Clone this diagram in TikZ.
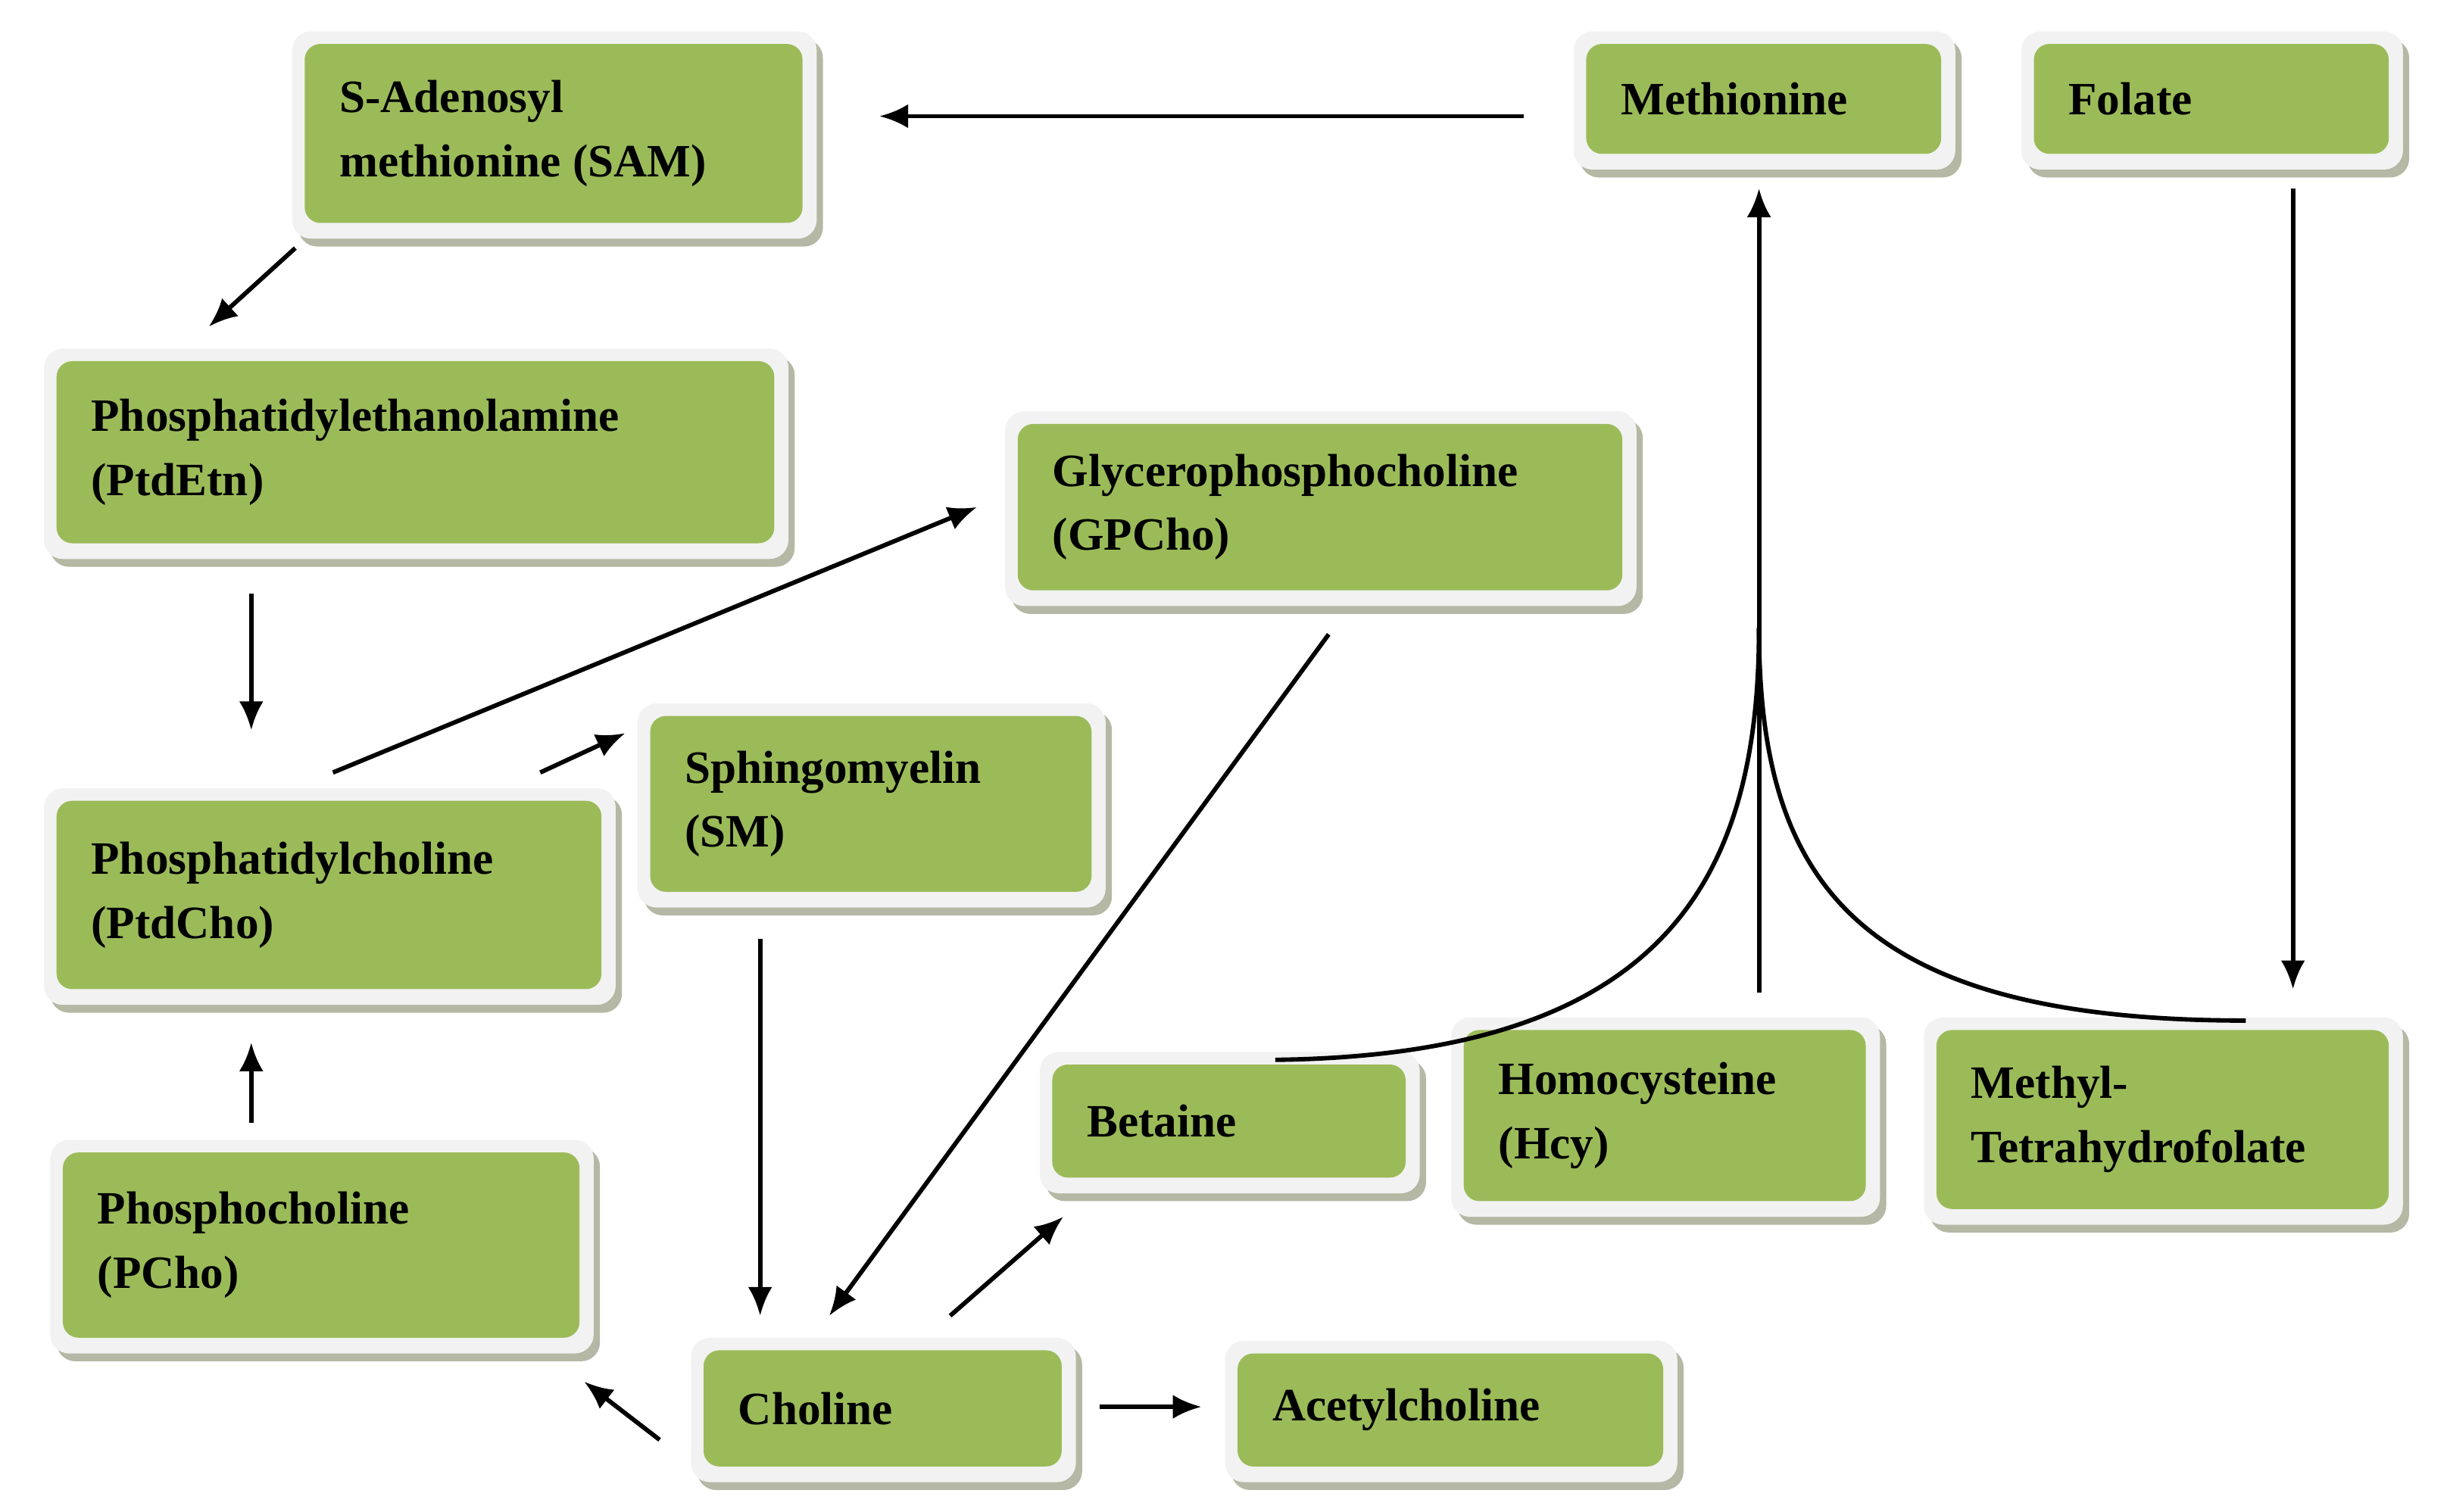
\documentclass[tikz,border=0pt]{standalone}
\usepackage{fontspec}
\setmainfont{Liberation Serif}
\usetikzlibrary{arrows.meta}
\definecolor{grn}{HTML}{9BBB59}
\definecolor{frm}{HTML}{F2F2F2}
\definecolor{shd}{HTML}{B4B8A4}
\tikzset{x=0.05cm,y=-0.05cm,
 arr/.style={line width=4pt,-{Latex[length=26pt,width=22pt]}},
 ln/.style={line width=4pt},
 txt/.style={anchor=west,align=left,font=\fontsize{42}{58}\selectfont\bfseries,inner sep=0pt}}
\newcommand{\bx}[6]{%
 \fill[shd,rounded corners=0.6cm] (#2+4,#3+5) rectangle (#4+4,#5+5);
 \fill[frm,rounded corners=0.6cm] (#2,#3) rectangle (#4,#5);
 \fill[grn,rounded corners=0.5cm] (#2+8,#3+8) rectangle (#4-9,#5-10);
 \node[txt] (#1) at (#2+30,{(#3+#5)/2-1}) {#6};}
\begin{document}
\begin{tikzpicture}
\useasboundingbox (0,0) rectangle (1560,963);
\fill[white] (0,0) rectangle (1560,963);
\bx{sam}{186}{20}{520}{152}{S-Adenosyl\\methionine (SAM)}
\bx{met}{1002}{20}{1245}{108}{Methionine}
\bx{fol}{1287}{20}{1530}{108}{Folate}
\bx{pe}{28}{222}{502}{356}{Phosphatidylethanolamine\\(PtdEtn)}
\bx{gpc}{640}{262}{1042}{386}{Glycerophosphocholine\\(GPCho)}
\bx{sm}{406}{448}{704}{578}{Sphingomyelin\\(SM)}
\bx{pc}{28}{502}{392}{640}{Phosphatidylcholine\\(PtdCho)}
\bx{pcho}{32}{726}{378}{862}{Phosphocholine\\(PCho)}
\bx{bet}{662}{670}{904}{760}{Betaine}
\bx{hcy}{924}{648}{1197}{775}{Homocysteine\\(Hcy)}
\bx{mthf}{1225}{648}{1530}{780}{Methyl-\\Tetrahydrofolate}
\bx{cho}{440}{852}{685}{944}{Choline}
\bx{ach}{780}{854}{1068}{944}{Acetylcholine}
\coordinate (a1) at (970,74); \coordinate (a2) at (560,74);
\coordinate (b1) at (188,158); \coordinate (b2) at (133,208);
\coordinate (c1) at (160,378); \coordinate (c2) at (160,465);
\coordinate (d1) at (212,492); \coordinate (d2) at (622,323);
\coordinate (e1) at (344,492); \coordinate (e2) at (398,467);
\coordinate (f1) at (484,598); \coordinate (f2) at (484,838);
\coordinate (g1) at (846,404); \coordinate (g2) at (528,838);
\coordinate (h1) at (160,715); \coordinate (h2) at (160,664);
\coordinate (i1) at (420,917); \coordinate (i2) at (372,880);
\coordinate (j1) at (605,838); \coordinate (j2) at (677,775);
\coordinate (k1) at (700,896); \coordinate (k2) at (765,896);
\coordinate (m1) at (1120,632); \coordinate (m2) at (1120,120);
\coordinate (n1) at (1460,120); \coordinate (n2) at (1460,630);
\coordinate (jn) at (1120,400);
\coordinate (bt) at (812,675); \coordinate (mt) at (1430,650);
\foreach \s/\t in {a1/a2,b1/b2,c1/c2,d1/d2,e1/e2,f1/f2,g1/g2,h1/h2,i1/i2,j1/j2,k1/k2,m1/m2,n1/n2}
  \draw[arr] (\s) -- (\t);
\draw[ln] (bt) .. controls (1060,672) and (1120,560) .. (jn);
\draw[ln] (mt) .. controls (1180,650) and (1120,560) .. (jn);
\end{tikzpicture}
\end{document}
